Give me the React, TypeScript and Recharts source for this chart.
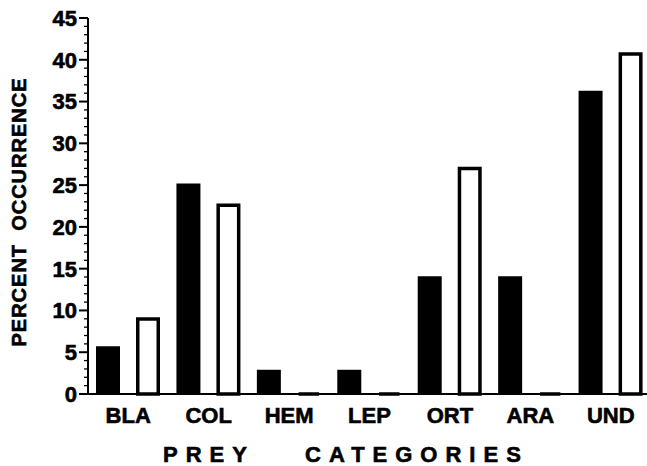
import React from "react";
import { BarChart, Bar, XAxis, YAxis } from "recharts";

const CATEGORIES = ["BLA", "COL", "HEM", "LEP", "ORT", "ARA", "UND"];
const FILLED = [5.7, 25.2, 2.9, 2.9, 14.1, 14.1, 36.3];
const OPEN = [9.2, 22.8, 0, 0, 27.2, 0, 40.9];
const Y_TICKS = Array.from({ length: 46 }, (_, i) => i);
const BOUNDS = [0, 1, 2, 3, 4, 5, 6, 7];

const data = CATEGORIES.map((name, i) => ({ name, filled: FILLED[i], open: OPEN[i] }));

const FONT = '"Liberation Sans", Arial, Helvetica, sans-serif';
// the scanned lettering is heavier than plain bold
const heavy = { stroke: "#000", strokeWidth: 0.6 };

const YTick = (props: any) => {
  const { x, y, payload } = props;
  const major = payload.value % 5 === 0;
  return (
    <g>
      <line x1={x - (major ? 9 : 4)} x2={x} y1={y} y2={y} stroke="#000" strokeWidth={major ? 2 : 1.3} />
      {major && (
        <text x={x - 11} y={y} dy="0.36em" textAnchor="end" fontFamily={FONT} fontWeight="bold" fontSize={22} fill="#000" {...heavy}>
          {payload.value}
        </text>
      )}
    </g>
  );
};

const XTick = (props: any) => {
  const { x, y, payload } = props;
  return (
    <text x={x} y={y + 28} textAnchor="middle" fontFamily={FONT} fontWeight="bold" fontSize={22} fill="#000" {...heavy}>
      {payload.value}
    </text>
  );
};

// open bars: outline drawn inside the bar rect, still visible when the value is 0
const OpenBar = (props: any) => {
  const { x, y, width, height } = props;
  const s = 1.75;
  const bottom = y + height;
  const top = Math.min(y + s, bottom);
  return (
    <path
      d={`M${x + s},${bottom} V${top} H${x + width - s} V${bottom} Z`}
      fill="#fff"
      stroke="#000"
      strokeWidth={3.5}
    />
  );
};

export default function App() {
  return (
    <div style={{ position: "absolute", left: 0, top: 0, width: 647, height: 466, overflow: "hidden", background: "#fff" }}>
      <BarChart width={651} height={466} data={data} margin={{ top: 18, right: 0, bottom: 0, left: 0 }} barGap={16} barSize={24}>
        <XAxis
          xAxisId="bounds"
          type="number"
          domain={[0, 7]}
          ticks={BOUNDS}
          allowDataOverflow
          height={1}
          tick={false}
          tickSize={8}
          tickLine={{ stroke: "#000", strokeWidth: 2 }}
          axisLine={{ stroke: "#000", strokeWidth: 2 }}
        />
        <XAxis
          xAxisId="cat"
          dataKey="name"
          height={71}
          tickLine={false}
          axisLine={false}
          tickSize={0}
          tickMargin={0}
          interval={0}
          tick={<XTick />}
          label={() => (
            <text y={462} fontFamily={FONT} fontWeight="bold" fontSize={22} letterSpacing={8} fill="#000" {...heavy}>
              <tspan x={163}>PREY</tspan>
              <tspan x={305}>CATEGORIES</tspan>
            </text>
          )}
        />
        <YAxis
          width={88}
          domain={[0, 45]}
          ticks={Y_TICKS}
          interval={0}
          tickLine={false}
          tickSize={0}
          tickMargin={0}
          tick={<YTick />}
          axisLine={{ stroke: "#000", strokeWidth: 2 }}
          label={() => (
            <text
              x={26}
              y={212}
              transform="rotate(-90, 26, 212)"
              textAnchor="middle"
              fontFamily={FONT}
              fontWeight="bold"
              fontSize={20}
              letterSpacing={1}
              fill="#000"
              {...heavy}
              style={{ whiteSpace: "pre" }}
            >
              {"PERCENT  OCCURRENCE"}
            </text>
          )}
        />
        <Bar xAxisId="cat" dataKey="filled" fill="#000" isAnimationActive={false} />
        <Bar xAxisId="cat" dataKey="open" shape={<OpenBar />} isAnimationActive={false} />
      </BarChart>
    </div>
  );
}
